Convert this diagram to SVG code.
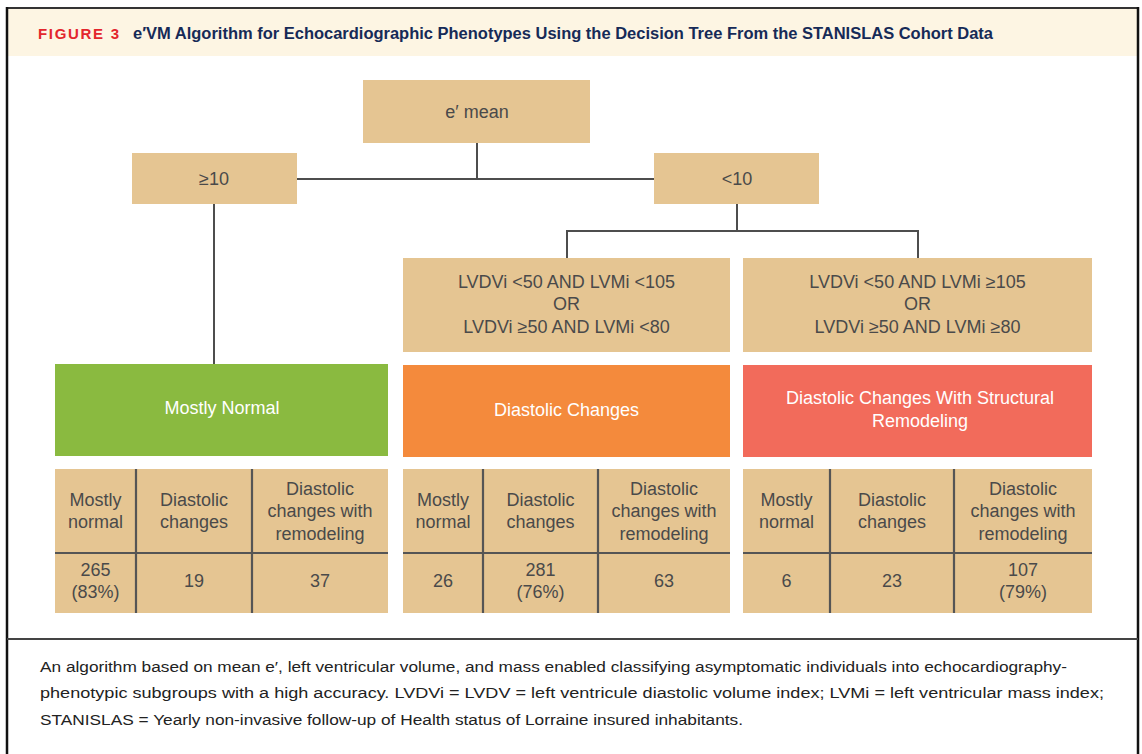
<svg xmlns="http://www.w3.org/2000/svg" width="1142" height="754" viewBox="0 0 1142 754">
<style>
.box{fill:#e5c592}
.t{font-family:"Liberation Sans",Arial,sans-serif;font-size:18px;fill:#4a4a4a;text-anchor:middle;dominant-baseline:central}
.w{font-family:"Liberation Sans",Arial,sans-serif;font-size:18px;fill:#ffffff;text-anchor:middle;dominant-baseline:central}
.conn{stroke:#4d4d4d;stroke-width:2;fill:none}
.grid{stroke:#555555;stroke-width:2.2;fill:none}
.cap{font-family:"Liberation Sans",Arial,sans-serif;font-size:15.5px;fill:#222222}
</style>
<rect x="0" y="0" width="1142" height="754" fill="#ffffff"/>
<!-- header band -->
<rect x="7" y="8" width="1131" height="48" fill="#fdf5e3"/>
<line x1="6" y1="8" x2="1139" y2="8" stroke="#333333" stroke-width="2"/>
<line x1="7" y1="7" x2="7" y2="754" stroke="#111111" stroke-width="2.5"/>
<line x1="1138" y1="7" x2="1138" y2="754" stroke="#111111" stroke-width="2.5"/>
<line x1="7" y1="639" x2="1138" y2="639" stroke="#444444" stroke-width="2"/>
<text x="38" y="39" font-family="'Liberation Sans',Arial,sans-serif" font-size="15" font-weight="bold" fill="#e3262d" textLength="81" lengthAdjust="spacing">FIGURE 3</text>
<text x="133" y="39" font-family="'Liberation Sans',Arial,sans-serif" font-size="16" font-weight="bold" fill="#162a57" textLength="860" lengthAdjust="spacingAndGlyphs">e′VM Algorithm for Echocardiographic Phenotypes Using the Decision Tree From the STANISLAS Cohort Data</text>

<g id="connectors">
<path class="conn" d="M477,143 V179"/>
<path class="conn" d="M297,179 H654"/>
<path class="conn" d="M214,204 V364"/>
<path class="conn" d="M737,204 V231"/>
<path class="conn" d="M567,258 V231 H918 V258"/>
</g>

<g id="emean"><rect class="box" x="363" y="80" width="227" height="63"/><text class="t" x="477" y="112">e′ mean</text></g>
<g id="ge10"><rect class="box" x="132" y="153" width="165" height="51"/><text class="t" x="214" y="179">≥10</text></g>
<g id="lt10"><rect class="box" x="654" y="153" width="165" height="51"/><text class="t" x="737" y="179">&lt;10</text></g>

<g id="cond1"><rect class="box" x="403" y="258" width="327" height="94"/>
<text class="t" x="566.5" y="282">LVDVi &lt;50 AND LVMi &lt;105</text>
<text class="t" x="566.5" y="304">OR</text>
<text class="t" x="566.5" y="327">LVDVi ≥50 AND LVMi &lt;80</text></g>
<g id="cond2"><rect class="box" x="743" y="258" width="349" height="94"/>
<text class="t" x="917.5" y="282">LVDVi &lt;50 AND LVMi ≥105</text>
<text class="t" x="917.5" y="304">OR</text>
<text class="t" x="917.5" y="327">LVDVi ≥50 AND LVMi ≥80</text></g>

<g id="normal"><rect x="55" y="364" width="333" height="92" fill="#8aba40"/><text class="w" x="222" y="408">Mostly Normal</text></g>
<g id="diastolic"><rect x="403" y="365" width="327" height="92" fill="#f48a3c"/><text class="w" x="566.5" y="410">Diastolic Changes</text></g>
<g id="structural"><rect x="743" y="365" width="349" height="92" fill="#f26b5b"/>
<text class="w" x="920" y="398">Diastolic Changes With Structural</text>
<text class="w" x="920" y="421">Remodeling</text></g>

<g id="table1">
<rect class="box" x="55" y="469" width="333" height="144"/>
<path class="grid" d="M55,553 H388 M136,469 V613 M252,469 V613"/>
<text class="t" x="95.5" y="500">Mostly</text><text class="t" x="95.5" y="522">normal</text>
<text class="t" x="194" y="500">Diastolic</text><text class="t" x="194" y="522">changes</text>
<text class="t" x="320" y="489">Diastolic</text><text class="t" x="320" y="511">changes with</text><text class="t" x="320" y="534">remodeling</text>
<text class="t" x="95.5" y="570">265</text><text class="t" x="95.5" y="592">(83%)</text>
<text class="t" x="194" y="581">19</text>
<text class="t" x="320" y="581">37</text>
</g>
<g id="table2">
<rect class="box" x="403" y="469" width="327" height="144"/>
<path class="grid" d="M403,553 H730 M483,469 V613 M598,469 V613"/>
<text class="t" x="443" y="500">Mostly</text><text class="t" x="443" y="522">normal</text>
<text class="t" x="540.5" y="500">Diastolic</text><text class="t" x="540.5" y="522">changes</text>
<text class="t" x="664" y="489">Diastolic</text><text class="t" x="664" y="511">changes with</text><text class="t" x="664" y="534">remodeling</text>
<text class="t" x="443" y="581">26</text>
<text class="t" x="540.5" y="570">281</text><text class="t" x="540.5" y="592">(76%)</text>
<text class="t" x="664" y="581">63</text>
</g>
<g id="table3">
<rect class="box" x="743" y="469" width="349" height="144"/>
<path class="grid" d="M743,553 H1092 M830,469 V613 M954,469 V613"/>
<text class="t" x="786.5" y="500">Mostly</text><text class="t" x="786.5" y="522">normal</text>
<text class="t" x="892" y="500">Diastolic</text><text class="t" x="892" y="522">changes</text>
<text class="t" x="1023" y="489">Diastolic</text><text class="t" x="1023" y="511">changes with</text><text class="t" x="1023" y="534">remodeling</text>
<text class="t" x="786.5" y="581">6</text>
<text class="t" x="892" y="581">23</text>
<text class="t" x="1023" y="570">107</text><text class="t" x="1023" y="592">(79%)</text>
</g>

<g id="caption">
<text class="cap" x="40" y="672" textLength="1027" lengthAdjust="spacingAndGlyphs">An algorithm based on mean e′, left ventricular volume, and mass enabled classifying asymptomatic individuals into echocardiography-</text>
<text class="cap" x="40" y="698" textLength="1064" lengthAdjust="spacingAndGlyphs">phenotypic subgroups with a high accuracy. LVDVi = LVDV = left ventricule diastolic volume index; LVMi = left ventricular mass index;</text>
<text class="cap" x="40" y="725" textLength="703" lengthAdjust="spacingAndGlyphs">STANISLAS = Yearly non-invasive follow-up of Health status of Lorraine insured inhabitants.</text>
</g>
</svg>
